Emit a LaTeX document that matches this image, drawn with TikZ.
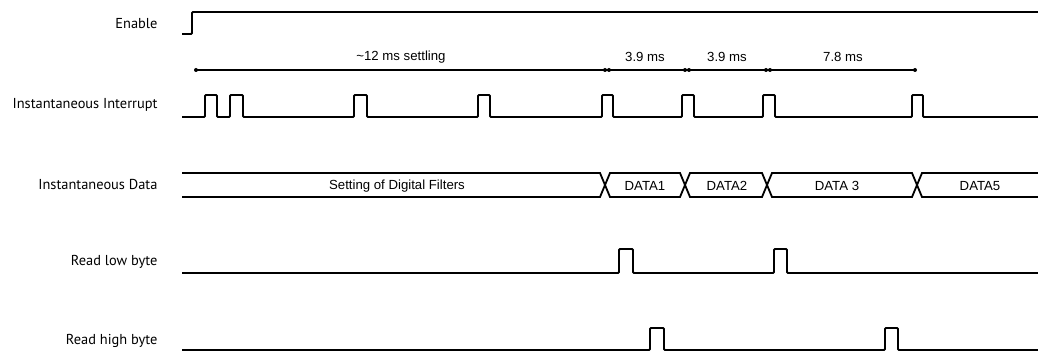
\documentclass[tikz,border=0pt]{standalone}
\usepackage{fontspec}
\setmainfont{Liberation Sans}
\newfontfamily\labelfont{PT Sans}
\usetikzlibrary{positioning}

\begin{document}
\begin{tikzpicture}[x=1pt, y=-1pt,
    sig/.style={line width=1.8pt, rounded corners=1pt},
    lbl/.style={anchor=east, font=\labelfont\fontsize{14.4}{16}\selectfont},
    txt/.style={font=\fontsize{13.2}{15}\selectfont}]
    \useasboundingbox (0,0) rectangle (1038,352);

    % Signal names
    \node[lbl] (enable) at (161,24) {Enable};
    \node[lbl] (intr) at (161,105) {Instantaneous Interrupt};
    \node[lbl] (data) at (161,184) {Instantaneous Data};
    \node[lbl] (rdlo) at (161,262) {Read low byte};
    \node[lbl] (rdhi) at (161,341) {Read high byte};

    % Enable
    \draw[sig] (182,34) -- (192,34) -- (192,12) -- (1038,12);

    % Timing marks
    \draw[line width=1.6pt] (196,70) -- (915,70);
    \foreach \x in {196,915} \fill (\x,70) circle (2pt);
    \foreach \x in {607,687,768} {
        \fill (\x-2,70) circle (2pt);
        \fill (\x+2,70) circle (2pt);
    }
    \node[txt] (settle) at (401,57) {\textasciitilde12 ms settling};
    \node[txt] (ta) at (645,57) {3.9 ms};
    \node[txt] (tb) at (727,57) {3.9 ms};
    \node[txt] (tc) at (843,57) {7.8 ms};

    % Instantaneous Interrupt
    \draw[sig] (182,117)
        \foreach \a/\b in {205/217, 230/243, 354/367, 478/490, 602/613, 682/694, 763/775, 912/923}
            { -- (\a,117) -- (\a,95) -- (\b,95) -- (\b,117) }
        -- (1038,117);

    % Instantaneous Data
    \draw[sig, rounded corners=0pt] (182,173) -- (600,173) -- (610,197) -- (680,197) -- (690,173) -- (762,173) -- (772,197) -- (912,197) -- (922,173) -- (1038,173);
    \draw[sig, rounded corners=0pt] (182,197) -- (600,197) -- (610,173) -- (680,173) -- (690,197) -- (762,197) -- (772,173) -- (912,173) -- (922,197) -- (1038,197);
    \node[txt] (filt) at (397,186) {Setting of Digital Filters};
    \node[txt] (d1) at (645,186) {DATA1};
    \node[txt] (d2) at (727,186) {DATA2};
    \node[txt] (d3) at (837,186) {DATA 3};
    \node[txt] (d5) at (980,186) {DATA5};

    % Read low byte
    \draw[sig] (182,273)
        \foreach \a/\b in {619/633, 774/787}
            { -- (\a,273) -- (\a,249) -- (\b,249) -- (\b,273) }
        -- (1038,273);

    % Read high byte
    \draw[sig] (182,350)
        \foreach \a/\b in {650/664, 885/898}
            { -- (\a,350) -- (\a,328) -- (\b,328) -- (\b,350) }
        -- (1038,350);
\end{tikzpicture}
\end{document}
